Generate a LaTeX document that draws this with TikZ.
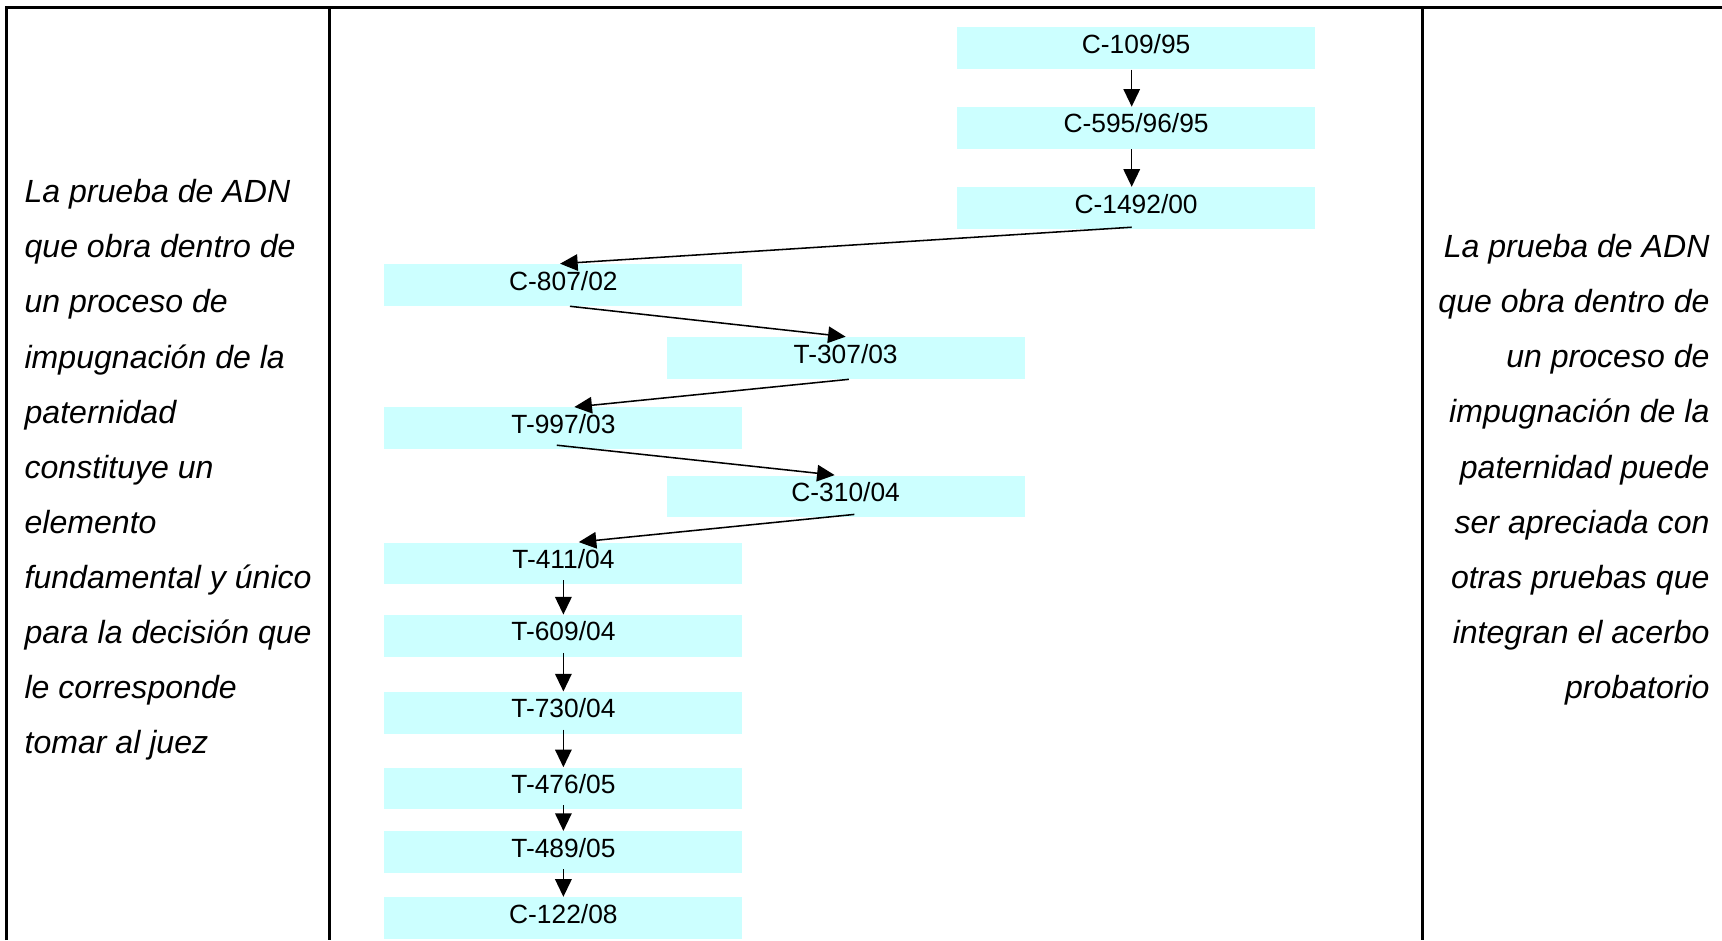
\documentclass[tikz,border=0pt]{standalone}
\usepackage{fontspec}
\setmainfont{Liberation Sans}
\usetikzlibrary{arrows.meta}
\definecolor{cajacian}{RGB}{204,255,255}
\begin{document}
\begin{tikzpicture}[x=0.5pt,y=-0.5pt,
    caja/.style={fill=cajacian,inner sep=0pt,minimum width=163pt,
      text height=11.8pt,text depth=7.2pt,font=\fontsize{12}{14}\selectfont},
    flecha/.style={line width=0.7pt,-{Triangle[length=8pt,width=7.5pt]}},
    lado/.style={inner sep=0pt,font=\fontsize{14.6}{25}\selectfont\itshape}]
  \useasboundingbox (0,0) rectangle (1568,856);

  % the table
  \draw[line width=1.2pt] (6,856) -- (6,7) -- (1568,7);
  \draw[line width=1.2pt] (300,7) -- (300,856);
  \draw[line width=1.2pt] (1295,7) -- (1295,856);

  %% the sentences
  \node[caja] (c109) at (1034.5,44) {C-109/95};
  \node[caja] (c595) at (1034.5,116.5) {C-595/96/95};
  \node[caja] (c1492) at (1034.5,189.5) {C-1492/00};
  \node[caja] (c807) at (513,259.5) {C-807/02};
  \node[caja] (t307) at (770,326) {T-307/03};
  \node[caja] (t997) at (513,390) {T-997/03};
  \node[caja] (c310) at (770,452) {C-310/04};
  \node[caja] (t411) at (513,513) {T-411/04};
  \node[caja] (t609) at (513,579) {T-609/04};
  \node[caja] (t730) at (513,649) {T-730/04};
  \node[caja] (t476) at (513,718) {T-476/05};
  \node[caja] (t489) at (513,776) {T-489/05};
  \node[caja] (c122) at (513,836) {C-122/08};

  %% the line of precedents
  \draw[flecha] ([xshift=-2pt]c109.south) -- ([xshift=-2pt]c595.north);
  \draw[flecha] ([xshift=-2pt]c595.south) -- ([xshift=-2pt]c1492.north);
  \draw[flecha] ([xshift=-2pt,yshift=1pt]c1492.south) -- ([xshift=-1.5pt]c807.north);
  \draw[flecha] ([xshift=3pt]c807.south) -- (t307.north);
  \draw[flecha] ([xshift=1.5pt]t307.south) -- ([xshift=5pt]t997.north);
  \draw[flecha] ([xshift=-3pt,yshift=2pt]t997.south) -- ([xshift=-5pt]c310.north);
  \draw[flecha] ([xshift=4pt,yshift=1.5pt]c310.south) -- ([xshift=7pt]t411.north);
  \foreach \a/\b in {t411/t609,t609/t730,t730/t476,t476/t489,t489/c122}
    \draw[flecha] ([yshift=2pt]\a.south) -- (\b.north);

  %% the two positions
  \foreach \ln [count=\i] in {La prueba de ADN,que obra dentro de,un proceso de,
      impugnación de la,paternidad,constituye un,elemento,fundamental y único,
      para la decisión que,le corresponde,tomar al juez}
    \node[lado,anchor=base west] (izq\i) at (22,{134.3+50.2*\i}) {\ln};
  \foreach \ln [count=\i] in {La prueba de ADN,que obra dentro de,un proceso de,
      impugnación de la,paternidad puede,ser apreciada con,otras pruebas que,
      integran el acerbo,probatorio}
    \node[lado,anchor=base east] (der\i) at (1557,{184.3+50.2*\i}) {\ln};
\end{tikzpicture}
\end{document}
